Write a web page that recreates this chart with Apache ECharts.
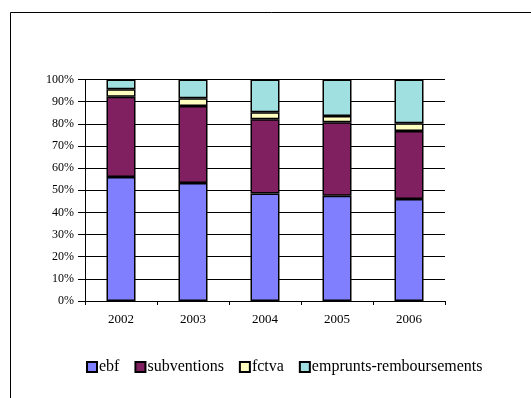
<!DOCTYPE html>
<html><head><meta charset="utf-8">
<script src="https://cdn.jsdelivr.net/npm/echarts@6/dist/echarts.min.js"></script>
<style>html,body{margin:0;padding:0;background:#fff}#c{width:531px;height:398px}</style>
</head><body><div id="c"></div>
<script>
const categories = ['2002','2003','2004','2005','2006'];
const ebf = [56.0, 53.3, 48.5, 47.5, 46.0];
const subventions = [36.2, 34.7, 33.5, 33.2, 30.7];
const fctva = [3.4, 3.5, 3.2, 2.8, 3.5];
const emprunts = [4.4, 8.5, 14.8, 16.5, 19.8];
const yTicks = [0,10,20,30,40,50,60,70,80,90,100];

const font = '"Liberation Serif","Times New Roman",serif';
const chart = echarts.init(document.getElementById('c'), null, {renderer:'canvas'});
function s(name, data, color){
  return {name, type:'bar', stack:'t', data, barWidth:29,
    itemStyle:{color, borderColor:'#000', borderWidth:1.5}};
}
chart.setOption({
  animation:false,
  graphic:[{type:'rect', shape:{x:10.5,y:12.5,width:600,height:500},
    style:{fill:null, stroke:'#000', lineWidth:1}, silent:true}],
  grid:{left:85, right:86, top:79.5, bottom:97},
  legend:{left:81, top:354, itemWidth:10, itemHeight:10, itemGap:15,
    icon:'rect',
    textStyle:{fontFamily:font, fontSize:16, color:'#000', padding:[0,0,0,-3]},
    data:['ebf','subventions','fctva','emprunts-remboursements']},
  xAxis:{type:'category', data:categories,
    axisLine:{lineStyle:{color:'#000',width:1}},
    axisTick:{show:true, length:4, lineStyle:{color:'#000'}},
    axisLabel:{fontFamily:font, fontSize:13, color:'#000', margin:12}},
  yAxis:{type:'value', min:0, max:100, interval:10,
    axisLine:{show:true, lineStyle:{color:'#000',width:1}},
    axisTick:{show:true, length:7, lineStyle:{color:'#000'}},
    axisLabel:{fontFamily:font, fontSize:12, color:'#000', margin:11,
      formatter:v=> yTicks.includes(v) ? v+'%' : ''},
    splitLine:{show:true, lineStyle:{color:'#000', width:1}}},
  series:[
    s('ebf', ebf, '#8080FF'),
    s('subventions', subventions, '#802060'),
    s('fctva', fctva, '#FFFFC0'),
    s('emprunts-remboursements', emprunts, '#A0E0E0')
  ]
});
</script></body></html>
